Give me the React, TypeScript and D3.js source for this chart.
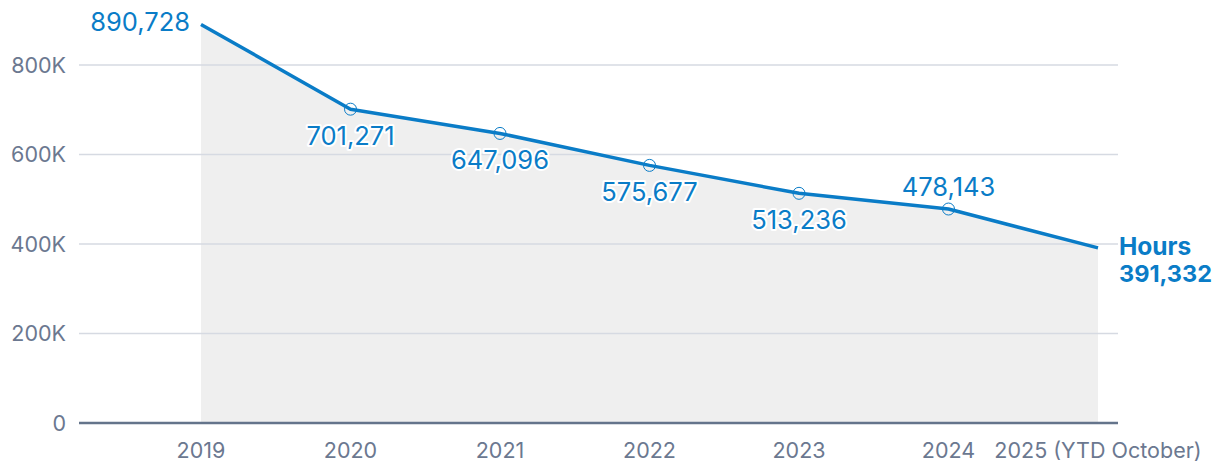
import React from "react";
import * as d3 from "d3";

const years = ["2019", "2020", "2021", "2022", "2023", "2024", "2025 (YTD October)"];
const hours = [890728, 701271, 647096, 575677, 513236, 478143, 391332];
const yTicks = [0, 200000, 400000, 600000, 800000];
const labelPos = ["left", "below", "below", "below", "below", "above", "end"];

const W = 1220, H = 472;
const BLUE = "#0a7cc7";
const GRAY = "#6b7890";
const FONT = "Inter, 'Noto Sans', sans-serif";

export default function App() {
  const x = d3.scalePoint<string>().domain(years).range([201, 1098]);
  const y = d3.scaleLinear().domain([0, 800000]).range([423, 65]);
  const data = years.map((yr, i) => ({ yr, v: hours[i], pos: labelPos[i] }));
  const line = d3.line<any>().x(d => x(d.yr)!).y(d => y(d.v));
  const area = d3.area<any>().x(d => x(d.yr)!).y0(y(0)).y1(d => y(d.v));
  const fmt = d3.format(",");
  const kfmt = (v: number) => (v === 0 ? "0" : `${v / 1000}K`);

  return (
    <svg width={W} height={H} style={{ position: "absolute", left: 0, top: 0, fontFamily: FONT }}>
      <path d={area(data)!} fill="#efefef" />
      {yTicks.filter(t => t > 0).map(t => (
        <line key={t} x1={79} x2={1118} y1={y(t)} y2={y(t)} stroke="#d6dae2" strokeWidth={1.5} />
      ))}
      <line x1={79} x2={1118} y1={y(0)} y2={y(0)} stroke="#64748b" strokeWidth={2.5} />
      {yTicks.map(t => (
        <text key={t} x={66} y={y(t)} dy="0.36em" textAnchor="end" fontSize={21.5} fill={GRAY}>
          {kfmt(t)}
        </text>
      ))}
      {years.map(yr => (
        <text key={yr} x={x(yr)} y={458} textAnchor="middle" fontSize={21.5} fill={GRAY}>
          {yr}
        </text>
      ))}
      <path d={line(data)!} fill="none" stroke={BLUE} strokeWidth={3.5} strokeLinejoin="round" />
      {data.slice(1, -1).map(d => (
        <circle key={d.yr} cx={x(d.yr)} cy={y(d.v)} r={6} fill="none" stroke={BLUE} strokeWidth={1} />
      ))}
      {data.map(d => {
        const px = x(d.yr)!, py = y(d.v);
        if (d.pos === "end") {
          return (
            <g key={d.yr} fontWeight={700} fill={BLUE}>
              <text x={1119} y={255} fontSize={24.5}>Hours</text>
              <text x={1119} y={282} fontSize={23.5}>{fmt(d.v)}</text>
            </g>
          );
        }
        let tx = px, ty = py, anchor: any = "middle";
        if (d.pos === "left") { tx = px - 11; ty = py + 7; anchor = "end"; }
        else if (d.pos === "below") { ty = py + 35.5; }
        else if (d.pos === "above") { ty = py - 13; }
        return (
          <text key={d.yr} x={tx} y={ty} textAnchor={anchor} fontSize={25.5} fill={BLUE}
            stroke="white" strokeWidth={4} paintOrder="stroke" strokeLinejoin="round">
            {fmt(d.v)}
          </text>
        );
      })}
    </svg>
  );
}
